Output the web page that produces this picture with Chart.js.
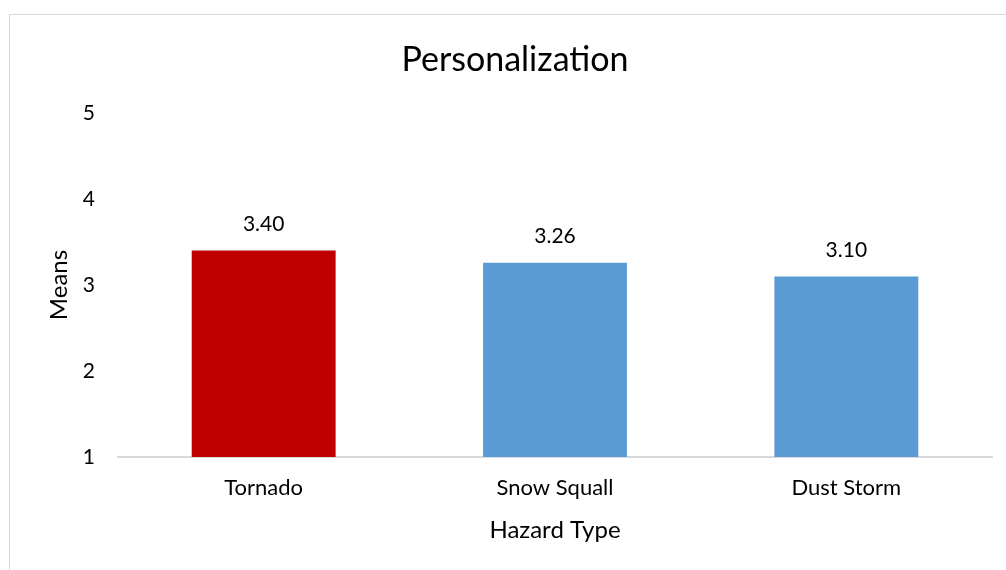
<!DOCTYPE html>
<html>
<head>
<meta charset="utf-8">
<title>Personalization</title>
<script src="https://cdn.jsdelivr.net/npm/chart.js@4"></script>
<style>
  html, body { margin: 0; padding: 0; background: #fff; }
  #wrap { width: 1006px; height: 570px; position: relative; }
</style>
</head>
<body>
<div id="wrap"><canvas id="meansChart"></canvas></div>
<script>
const chartTitle = 'Personalization';
const hazards = ['Tornado', 'Snow Squall', 'Dust Storm'];
const means = [3.40, 3.26, 3.10];
const barColors = ['#C00000', '#5B9BD5', '#5B9BD5'];
const yTicks = [1, 2, 3, 4, 5];

const FONT = 'Lato, Carlito, Calibri, "Noto Sans", sans-serif';

// light grey frame around the whole chart, plus the title centred on that frame
const frame = {
  id: 'frame',
  beforeDraw(chart) {
    const ctx = chart.ctx;
    ctx.save();
    ctx.strokeStyle = '#d9d9d9';
    ctx.lineWidth = 1;
    ctx.strokeRect(9.5, 14.5, 1100, 700);
    ctx.font = '34px ' + FONT;
    ctx.fillStyle = '#000';
    ctx.textAlign = 'center';
    ctx.textBaseline = 'middle';
    ctx.fillText(chartTitle, 515, 60);
    ctx.restore();
  }
};

// value labels above each bar
const valueLabels = {
  id: 'valueLabels',
  afterDatasetsDraw(chart) {
    const ctx = chart.ctx;
    const meta = chart.getDatasetMeta(0);
    ctx.save();
    ctx.font = '21px ' + FONT;
    ctx.fillStyle = '#000';
    ctx.textAlign = 'center';
    ctx.textBaseline = 'middle';
    meta.data.forEach((bar, i) => {
      ctx.fillText(means[i].toFixed(2), bar.x, bar.y - 26);
    });
    ctx.restore();
  }
};

new Chart(document.getElementById('meansChart'), {
  type: 'bar',
  data: {
    labels: hazards,
    datasets: [{
      data: means,
      backgroundColor: barColors,
      borderWidth: 0,
      barPercentage: 0.494,
      categoryPercentage: 1
    }]
  },
  options: {
    responsive: true,
    maintainAspectRatio: false,
    animation: false,
    layout: { padding: { top: 113, right: 14, bottom: 0, left: 0 } },
    plugins: {
      legend: { display: false },
      tooltip: { enabled: false },
      title: { display: false }
    },
    scales: {
      x: {
        grid: { display: false, drawTicks: false },
        border: { display: true, color: '#d9d9d9', width: 2 },
        ticks: { color: '#000', padding: 18, font: { family: FONT, size: 22 } },
        title: {
          display: true,
          text: 'Hazard Type',
          color: '#000',
          font: { family: FONT, size: 24 },
          padding: { top: 0, bottom: 25 }
        },
        afterFit(scale) { scale.height = 113; }
      },
      y: {
        min: 1,
        max: 5,
        grid: { display: false, drawTicks: false },
        border: { display: false },
        afterBuildTicks(scale) { scale.ticks = yTicks.map(v => ({ value: v })); },
        ticks: { color: '#000', padding: 23, font: { family: FONT, size: 21 } },
        title: {
          display: true,
          text: 'Means',
          color: '#000',
          font: { family: FONT, size: 24 },
          padding: { top: 45, bottom: 0 }
        },
        afterFit(scale) { scale.width = 118; }
      }
    }
  },
  plugins: [frame, valueLabels]
});
</script>
</body>
</html>
